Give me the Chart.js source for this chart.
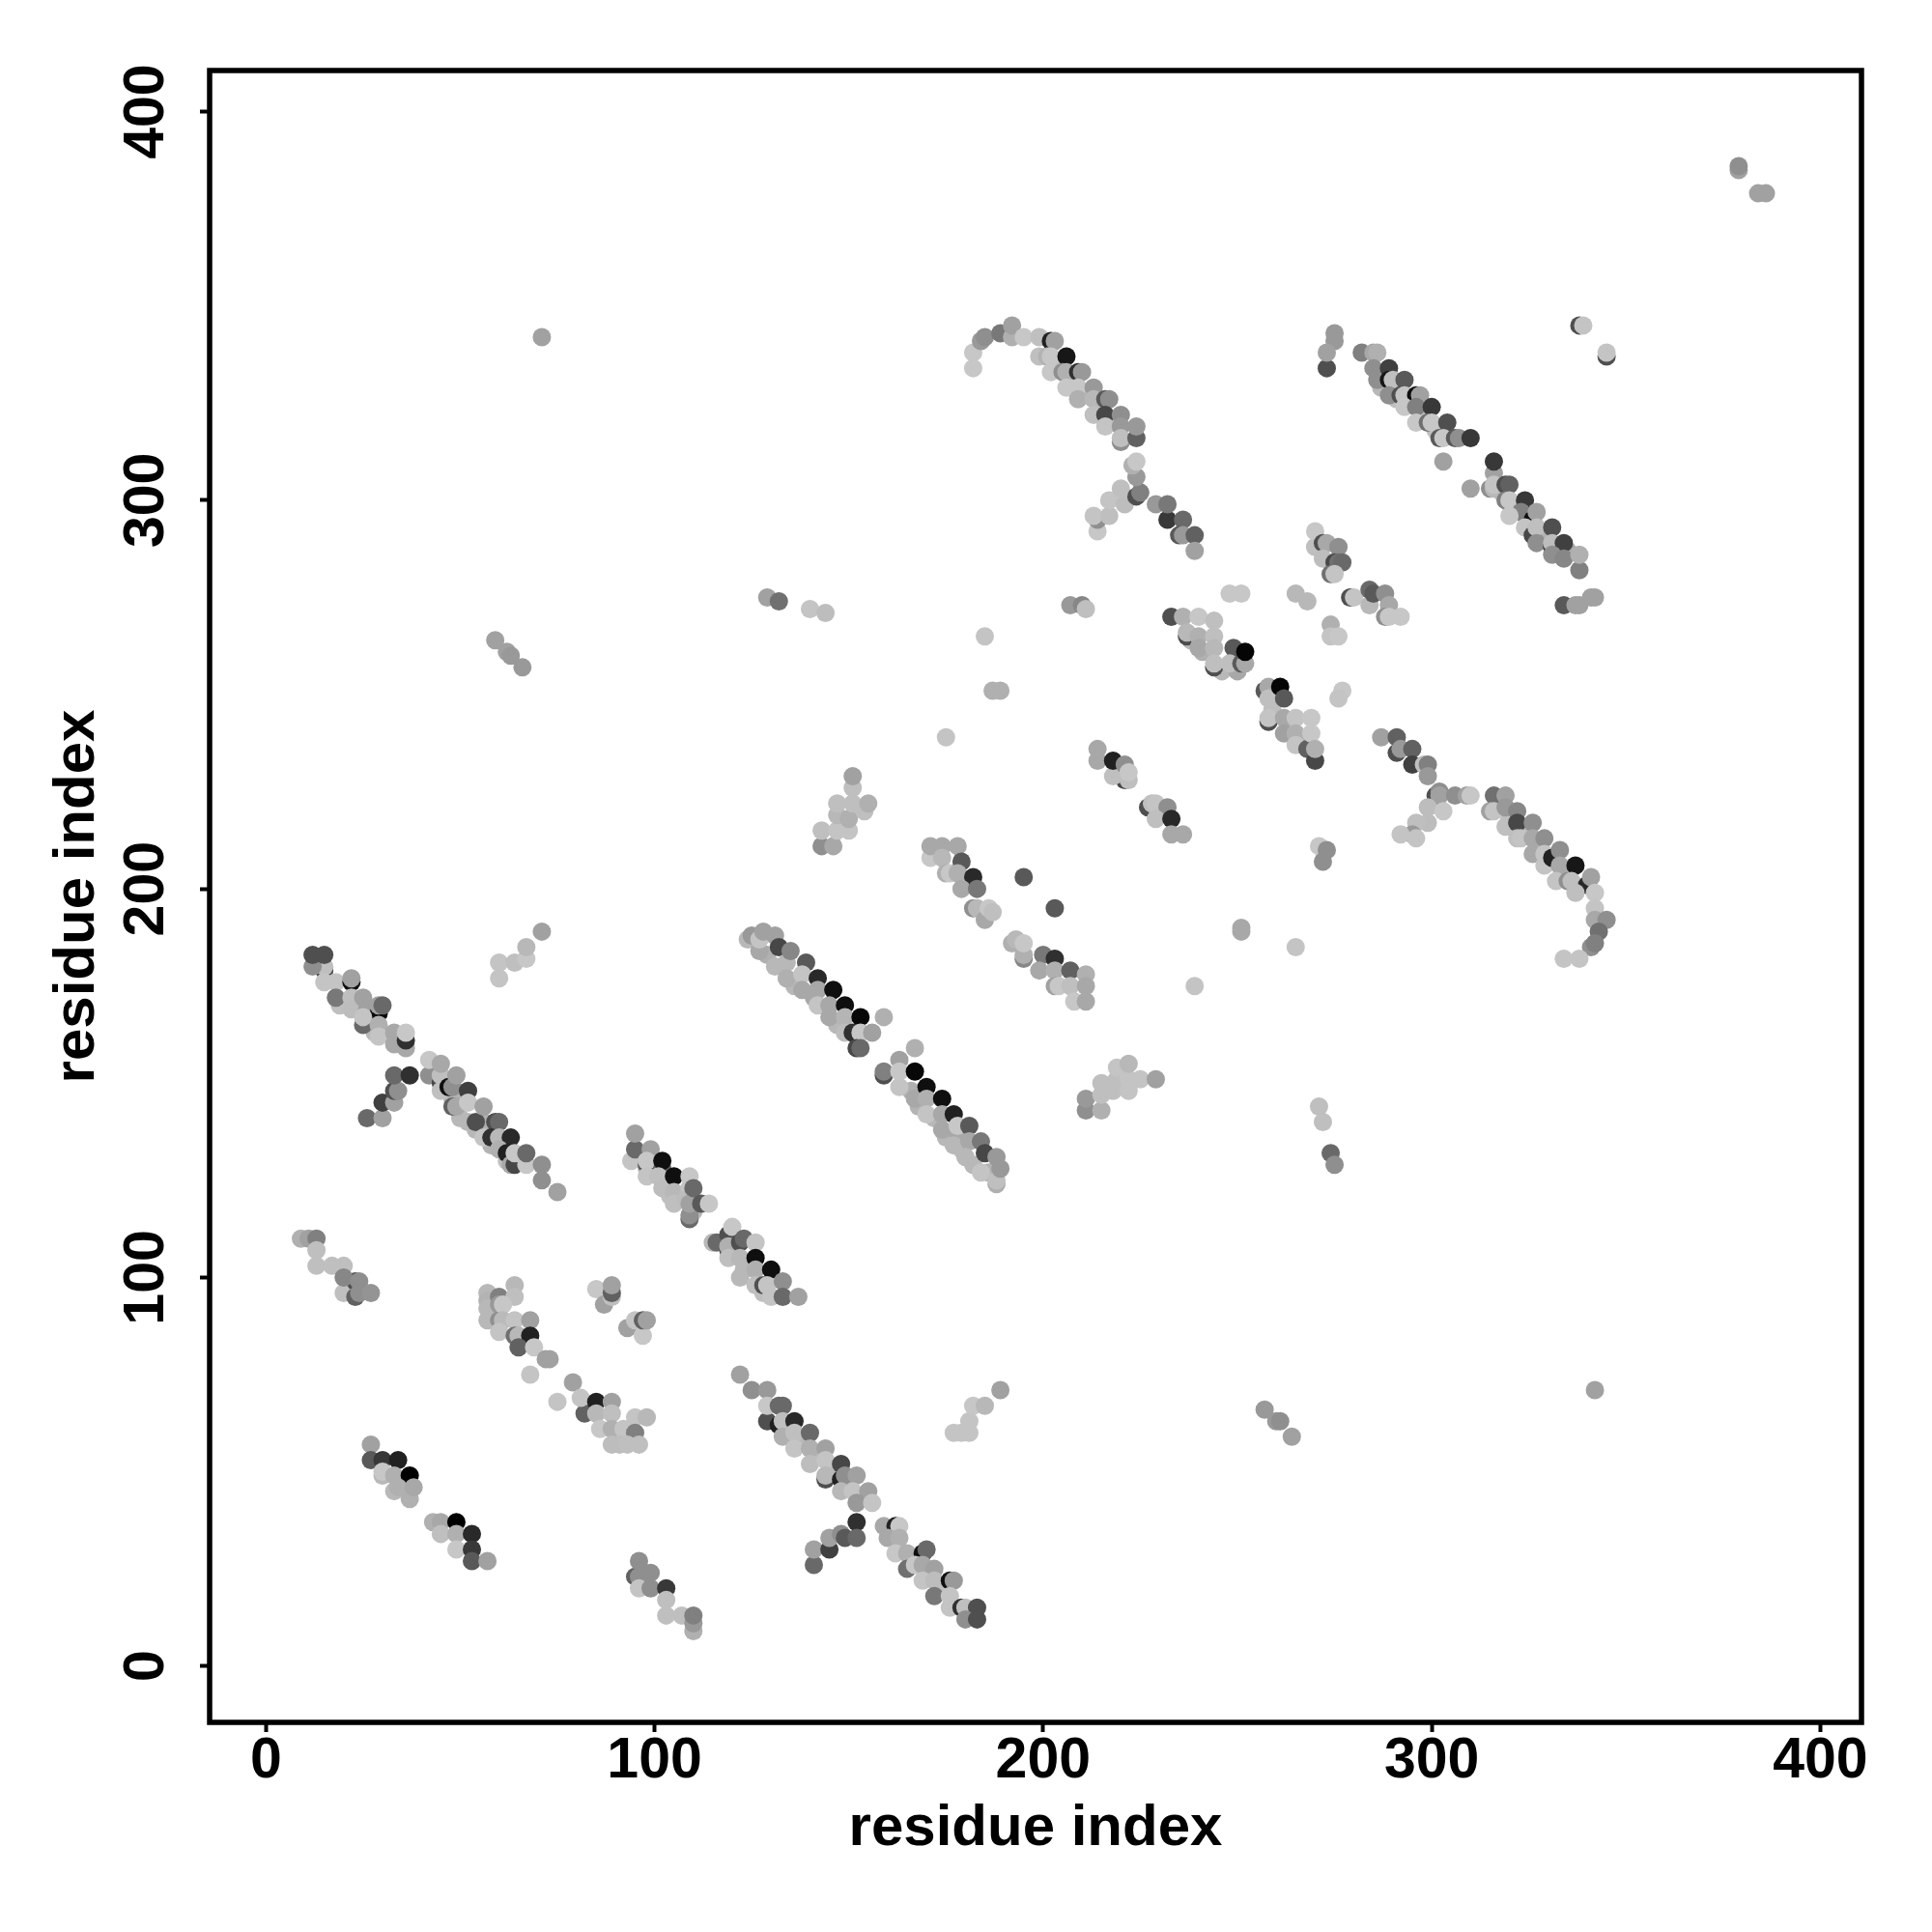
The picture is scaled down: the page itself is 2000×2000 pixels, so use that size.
<!DOCTYPE html>
<html>
<head>
<meta charset="utf-8">
<title>Residue contact map</title>
<script src="https://cdn.jsdelivr.net/npm/chart.js@4/dist/chart.umd.min.js"></script>
<style>
  html, body { margin: 0; padding: 0; background: #fff; }
</style>
</head>
<body>
<canvas id="contactChart" width="2000" height="2000"></canvas>
<script>
// Values, one row per cluster, drawn in this order
const residueX = [
  141,147,136,129,166,172,175,179,182,186,168,178,48,54,58,62,50,19,28,98,104,110,122,124,128,287,291,298,301,318,322,328,335,139,143,146,150,166,171,174,205,208,211,215,218,320,324,327,331,335,246,250,241,238,259,263,266,268,
  9,11,13,13,13,17,20,20,23,23,20,24,24,27,
  57,57,57,57,60,60,60,64,64,61,61,64,68,60,64,65,68,65,69,72,73,68,
  79,75,82,81,85,89,85,89,86,89,92,95,98,95,89,91,93,96,
  85,87,89,89,89,93,95,97,97,98,
  27,27,30,34,30,30,33,37,33,34,37,38,
  43,45,49,45,49,53,49,53,53,57,
  95,96,96,99,96,99,103,103,103,107,110,110,110,
  122,125,129,129,129,132,133,132,133,136,133,136,140,136,140,144,140,144,148,144,144,148,149,152,148,151,155,152,156,
  152,141,141,145,145,148,149,152,
  159,162,163,160,163,162,165,169,170,165,167,169,172,169,172,176,177,172,176,176,179,180,183,180,183,
  177,179,181,181,182,185,189,
  15,15,12,12,15,15,18,18,22,22,22,22,25,26,29,29,30,25,25,29,29,33,33,36,36,36,
  26,30,30,33,33,34,33,37,
  42,42,45,45,45,45,47,48,49,52,48,49,52,52,56,54,56,59,60,56,58,60,63,60,62,63,64,64,67,67,71,71,75,
  60,60,64,67,67,71,
  94,95,95,99,98,98,102,102,98,101,102,105,105,109,105,109,108,109,109,109,110,112,114,
  115,116,119,120,119,119,122,123,126,119,122,123,126,126,130,126,128,129,133,130,133,137,
  124,125,127,127,128,131,132,131,134,135,139,134,138,142,138,142,146,142,145,149,145,149,153,159,149,151,153,156,152,153,
  159,159,163,167,163,163,167,167,170,170,174,170,174,177,174,178,181,177,181,184,180,185,188,184,188,188,189,
  171,171,174,178,174,175,176,179,178,182,179,183,182,183,185,186,187,195,203,
  192,193,195,195,195,200,199,203,203,207,203,204,207,211,211,208,211,239,
  233,236,240,244,237,237,240,244,240,244,249,244,244,248,251,252,252,
  257,258,258,261,262,258,258,262,262,265,269,265,265,268,270,269,270,
  274,274,276,277,276,
  287,291,291,292,295,295,298,299,299,301,302,302,306,309,310,299,303,299,296,295,292,296,
  316,319,315,316,319,322,319,322,326,322,323,326,329,326,329,329,331,333,333,337,332,335,336,340,341,337,342,342,342,345,343,341,342,334,338,
  182,182,184,185,189,192,192,195,199,202,203,199,201,202,206,202,205,206,209,210,206,209,213,209,213,216,217,213,216,220,216,220,220,220,224,224,
  214,214,213,217,217,221,220,224,225,224,223,224,229,232,232,236,235,236,239,239,
  275,275,273,273,282,285,286,285,286,289,289,290,293,289,292,293,296,297,293,296,300,296,299,300,304,302,303,306,307,310,303,
  316,315,316,316,316,319,320,319,320,324,323,320,326,327,324,326,327,331,327,331,331,334,331,334,338,338,310,334,337,338,341,342,338,339,345,345,
  270,270,272,273,276,272,275,276,277,274,275,
  279,280,284,284,285,288,289,288,289,292,265,268,248,251,
  214,214,221,218,218,221,222,222,
  227,228,229,232,229,233,233,236,
  143,146,143,147,150,147,150,147,151,154,155,151,151,
  211,211,215,215,215,218,219,219,222,222,222,225,229,
  71,59,62,63,66,129,132,140,144,185,187,189,175,207,210,211,251,251,265,274,275,271,272,342,257,260,261,264,379,379,384,386,271,273,272
];
const residueY = [
  172,165,175,183,148,141,136,133,129,127,144,137,146,138,134,130,141,170,163,128,121,117,100,103,96,329,326,322,318,302,298,291,287,58,54,50,47,27,23,20,335,331,327,324,320,218,214,211,207,204,256,256,261,264,246,242,238,238,
  110,110,110,107,103,103,103,96,95,99,100,99,96,96,
  96,94,92,89,95,93,89,98,95,93,89,89,89,86,85,85,85,82,82,79,79,75,
  73,68,65,69,68,68,65,65,61,61,61,64,64,60,57,57,57,57,
  97,93,95,96,98,87,89,85,89,89,
  57,53,53,53,49,50,49,49,45,46,43,46,
  37,37,37,34,34,34,30,30,27,27,
  23,27,23,24,20,20,20,17,13,13,9,11,13,
  75,71,71,63,67,67,67,62,63,63,59,60,60,56,56,56,52,53,52,48,49,48,49,49,45,45,45,42,42,
  37,26,30,30,33,34,33,33,
  36,36,36,33,33,29,29,29,30,25,26,26,25,22,22,22,22,18,18,15,15,15,15,12,12,
  60,60,60,63,67,67,71,
  179,180,180,183,183,176,176,172,176,177,172,169,172,169,168,170,170,165,167,165,162,163,160,159,161,163,
  141,141,145,145,148,148,152,152,
  152,156,150,148,152,155,149,149,152,148,144,144,145,140,140,140,144,140,140,136,136,136,136,133,132,129,129,132,129,132,129,125,122,
  177,181,181,182,185,189,
  130,133,137,133,129,130,128,130,126,126,123,126,122,126,119,123,120,115,116,119,123,119,119,
  109,109,111,113,107,108,109,110,109,105,105,102,105,102,102,98,98,98,99,95,95,95,
  187,188,184,187,189,188,185,180,181,184,181,177,178,177,174,174,174,170,170,170,167,167,167,167,163,163,163,163,159,159,
  152,153,156,159,149,153,153,146,149,146,146,142,142,142,138,139,139,134,135,135,131,132,131,127,124,125,128,
  208,211,211,211,208,204,204,207,204,203,200,200,195,195,192,195,194,203,195,
  186,187,182,183,186,183,179,182,179,179,175,175,175,178,175,171,171,175,
  270,270,270,269,265,266,265,265,262,262,262,257,258,258,258,258,261,
  251,252,249,252,249,243,244,244,240,244,244,240,237,236,233,240,236,
  268,265,265,251,249,
  239,239,235,236,236,232,232,232,229,224,225,224,224,224,224,221,220,217,217,214,214,213,
  224,224,220,220,221,220,216,217,217,213,213,213,213,209,209,206,208,210,206,206,202,202,202,201,203,199,199,195,192,192,189,185,186,182,182,
  334,338,341,342,343,342,345,342,342,341,341,337,337,337,337,333,333,333,333,333,329,329,329,326,326,326,326,322,322,322,319,319,315,316,316,319,
  292,295,296,296,300,299,303,301,302,306,309,310,299,295,299,295,291,291,291,287,
  341,343,334,338,338,338,338,334,331,334,331,331,331,327,327,327,327,327,324,324,324,320,320,320,320,316,316,316,316,316,310,
  307,303,303,304,310,304,304,300,300,300,297,296,295,297,293,291,293,293,289,288,289,289,286,285,282,286,303,273,273,273,275,275,345,345,337,338,
  288,292,289,289,288,285,284,284,284,281,281,
  275,275,277,273,276,276,273,270,270,270,276,274,276,276,
  233,236,228,229,233,232,228,230,
  221,222,222,221,218,218,214,214,
  211,211,215,215,215,219,218,222,222,220,222,226,229,
  143,146,143,147,150,148,151,154,148,151,155,151,151,
  342,264,261,260,257,275,274,272,271,265,251,251,239,273,273,272,189,190,185,132,129,144,140,71,66,63,63,59,385,386,379,379,211,210,207
];
const contactScore = [
  34,28,28,31,31,28,28,25,28,30,30,34,30,28,30,25,28,25,28,25,25,28,28,34,25,28,25,25,25,25,28,30,34,28,28,28,25,28,28,25,25,25,28,25,28,25,28,28,28,28,28,34,31,28,25,30,25,30,
  31,37,50,25,25,25,25,25,62,69,47,44,44,42,
  28,30,28,28,50,40,44,28,25,22,27,23,37,23,56,28,87,62,22,37,37,23,
  37,23,62,23,87,37,28,25,22,31,23,23,28,50,26,26,25,25,
  22,37,25,62,37,37,23,22,62,37,
  37,65,78,87,28,22,31,100,28,31,31,34,
  31,34,100,25,31,84,22,78,65,37,
  62,44,44,44,23,44,78,25,25,25,31,40,50,
  37,44,40,69,22,59,59,87,25,84,31,25,59,23,31,37,26,23,72,69,28,87,44,37,28,23,37,40,23,
  81,59,37,75,37,44,65,59,
  34,87,22,34,31,22,31,94,59,56,22,34,37,23,26,94,40,53,23,23,81,25,69,44,69,
  23,23,23,23,22,28,37,
  72,25,44,69,69,23,23,53,94,37,25,26,37,37,97,37,59,59,23,31,23,34,34,34,81,22,
  59,37,75,37,69,44,59,81,
  44,22,72,25,25,34,94,44,37,75,62,34,22,28,31,69,37,69,59,23,81,28,84,31,87,34,72,22,22,59,44,44,37,
  23,23,25,22,28,37,
  23,59,37,37,65,22,62,94,23,25,26,94,28,22,25,23,26,59,44,37,59,65,22,
  28,59,69,22,69,31,69,59,23,25,28,28,94,31,94,25,69,23,44,23,59,37,
  28,40,34,23,37,37,72,28,28,47,65,31,23,84,34,34,94,23,34,94,34,29,97,31,26,81,22,37,72,59,
  69,50,37,31,23,22,97,34,94,31,94,23,34,87,34,22,65,28,34,53,28,72,40,23,31,25,40,
  22,34,34,34,28,31,22,65,31,84,34,53,44,28,34,22,25,65,65,
  31,28,47,31,22,53,34,81,31,62,37,22,25,31,34,22,34,23,
  69,31,22,25,70,28,31,25,34,28,65,69,25,25,65,34,98,
  65,34,25,98,65,69,23,34,37,23,22,31,23,62,72,22,31,
  31,23,22,22,23,
  37,62,69,40,62,75,25,50,40,69,44,37,44,37,22,26,22,26,25,40,23,23,
  56,37,37,23,40,47,25,72,44,25,23,34,44,34,23,23,87,44,34,91,23,44,25,84,37,25,22,23,34,44,56,44,50,23,23,
  22,22,40,44,53,31,37,22,25,87,37,25,30,22,91,22,44,31,81,40,22,22,40,31,28,65,44,25,72,44,23,40,44,25,62,40,
  22,44,23,25,23,26,25,69,50,40,31,22,40,78,53,59,65,40,62,37,
  40,40,69,37,50,34,31,44,44,75,91,25,65,44,69,23,94,37,22,50,78,22,56,22,69,65,22,65,44,78,37,
  37,44,28,23,78,69,62,50,22,78,50,22,94,37,23,72,25,69,44,78,26,75,44,47,50,31,37,65,37,37,37,37,69,23,69,23,
  25,22,69,34,44,26,72,56,59,56,23,
  69,23,59,28,65,44,34,44,22,22,28,28,22,22,
  34,34,72,25,87,44,25,22,
  69,25,23,44,25,84,34,34,
  44,34,25,23,23,28,31,25,25,25,31,25,37,
  44,40,31,25,25,25,25,23,23,23,28,23,37,
  37,37,37,40,40,37,56,23,26,23,31,31,23,40,47,25,34,34,23,59,44,25,25,37,40,40,44,37,37,44,37,37,22,44,44
];
const tickValues = [0, 100, 200, 300, 400];
const axisTitle = 'residue index';

// Darker grey for a higher score
function scoreToGrey(score) {
  const g = Math.round(255 - score * 2.55);
  return 'rgb(' + g + ',' + g + ',' + g + ')';
}

const points = residueX.map(function (x, i) {
  return { x: x, y: residueY[i] };
});

const tickFont = { family: '"Liberation Sans", Arial, sans-serif', size: 59, weight: 'bold' };
const titleFont = { family: '"Liberation Sans", Arial, sans-serif', size: 60, weight: 'bold' };

// Black box round the plot area
const frameBox = {
  id: 'frameBox',
  afterDatasetsDraw(chart) {
    const a = chart.chartArea;
    const c = chart.ctx;
    c.save();
    c.strokeStyle = '#000';
    c.lineWidth = 5.5;
    c.strokeRect(a.left, a.top, a.right - a.left, a.bottom - a.top);
    c.restore();
  }
};

function fixedTicks(axis) {
  axis.ticks = tickValues.map(function (v) { return { value: v }; });
}

const config = {
  type: 'scatter',
  data: {
    datasets: [{
      label: axisTitle,
      data: points,
      pointRadius: 9.5,
      pointHoverRadius: 9.5,
      pointBorderWidth: 0,
      pointBackgroundColor: contactScore.map(scoreToGrey)
    }]
  },
  options: {
    responsive: false,
    animation: false,
    layout: { padding: { top: 73, right: 73, left: 0, bottom: 0 } },
    plugins: {
      legend: { display: false },
      title: { display: false },
      tooltip: { enabled: false }
    },
    scales: {
      x: {
        type: 'linear',
        min: -14.5,
        max: 410.6,
        afterBuildTicks: fixedTicks,
        afterFit(scale) { scale.height = 217; },
        grid: { drawOnChartArea: false, tickLength: 10, tickWidth: 4, tickColor: '#000' },
        border: { display: false },
        ticks: { color: '#000', font: tickFont, padding: -5, maxRotation: 0, autoSkip: false },
        title: { display: true, text: axisTitle, color: '#000', font: titleFont, padding: { top: 0, bottom: 71 } }
      },
      y: {
        type: 'linear',
        min: -14.5,
        max: 410.6,
        afterBuildTicks: fixedTicks,
        afterFit(scale) { scale.width = 217; },
        grid: { drawOnChartArea: false, tickLength: 10, tickWidth: 4, tickColor: '#000' },
        border: { display: false },
        ticks: { color: '#000', font: tickFont, padding: 5, minRotation: 90, maxRotation: 90, crossAlign: 'center', autoSkip: false },
        title: { display: true, text: axisTitle, color: '#000', font: titleFont, padding: { top: 44, bottom: 0 } }
      }
    }
  },
  plugins: [frameBox]
};

const ctx = document.getElementById('contactChart').getContext('2d');
new Chart(ctx, config);
</script>
</body>
</html>
